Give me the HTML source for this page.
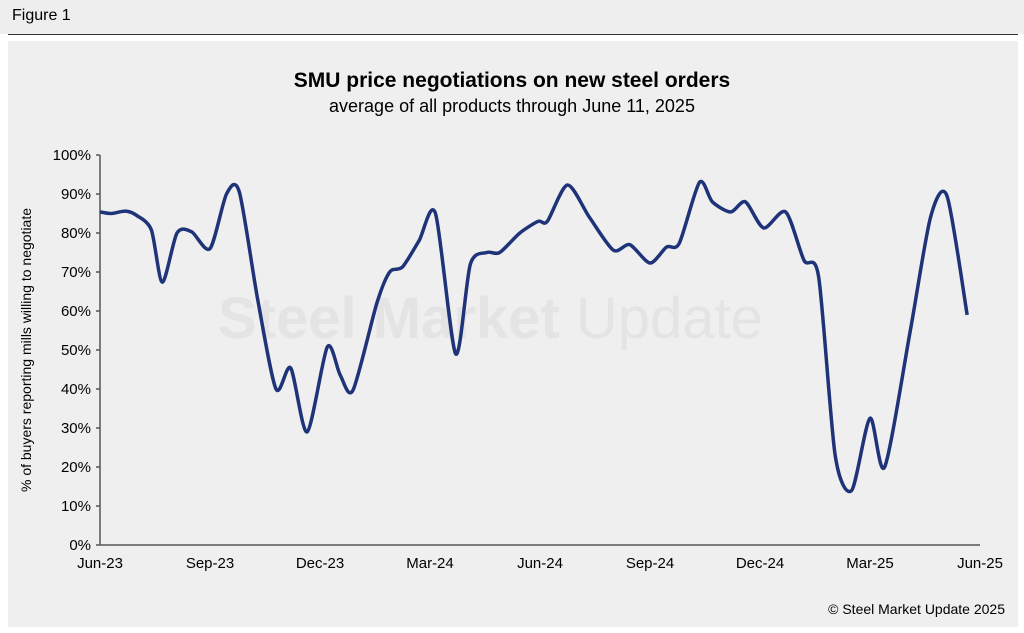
<!DOCTYPE html>
<html><head><meta charset="utf-8">
<style>
html,body{margin:0;padding:0;background:#fff;}
body{width:1024px;height:633px;position:relative;overflow:hidden;font-family:"Liberation Sans",Arial,sans-serif;}
</style></head>
<body>
<div style="position:absolute;left:0;top:0;width:1024px;height:34px;background:#eeeeee;"></div>
<div style="position:absolute;left:12px;top:7px;font-size:16px;color:#000;">Figure 1</div>
<div style="position:absolute;left:8px;top:34px;width:1010px;height:1px;background:#333;"></div>
<div style="position:absolute;left:8px;top:41px;width:1010px;height:586px;background:#efefef;"></div>
<svg id="chart" width="1024" height="633" style="position:absolute;left:0;top:0">
<text x="512" y="87" text-anchor="middle" font-size="21" font-weight="bold" fill="#000">SMU price negotiations on new steel orders</text>
<text x="512" y="112" text-anchor="middle" font-size="18" fill="#000">average of all products through June 11, 2025</text>
<text x="218" y="338" font-size="58" font-weight="bold" fill="#e4e4e4">Steel Market <tspan font-weight="normal">Update</tspan></text>
<text transform="translate(31,350) rotate(-90)" text-anchor="middle" font-size="14" fill="#000">% of buyers reporting mills willing to negotiate</text>
<text x="1005" y="614" text-anchor="end" font-size="14" fill="#000">© Steel Market Update 2025</text>
<g id="axes"></g>
<g id="series"></g>
</svg>
<script>
const monthIdx=[0,0.3,0.7,1.0,1.4,1.7,2.1,2.5,3.0,3.45,3.8,4.3,4.8,5.2,5.65,6.2,6.55,6.9,7.55,7.9,8.25,8.7,9.15,9.7,10.1,10.55,10.9,11.45,11.95,12.2,12.75,13.35,14.0,14.45,15.0,15.45,15.8,16.35,16.7,17.2,17.6,18.1,18.7,19.2,19.6,20.05,20.5,21.0,21.4,22.1,22.65,23.1,23.65];
const values=[85.4,85,85.6,84.5,80.8,67.4,80,80.3,76,90,90.5,63,40,45.4,29,50.8,43.6,39.7,62,70,71.3,78,85,49,72,75,75,80,83,83,92.3,84,75.6,77,72.3,76.4,77.4,93,88,85.4,88,81.3,85.4,73,68.7,23,14,32.5,20,55,84,89.5,59];
const xTickLabels=["Jun-23","Sep-23","Dec-23","Mar-24","Jun-24","Sep-24","Dec-24","Mar-25","Jun-25"];
const xTickMonths=[0,3,6,9,12,15,18,21,24];
const yTicks=[0,10,20,30,40,50,60,70,80,90,100];
const X0=100,X1=980,Y0=545,Y1=155;
const xs=m=>X0+(X1-X0)*m/24;
const ys=v=>Y0-(Y0-Y1)*v/100;
const NS="http://www.w3.org/2000/svg";
const axes=document.getElementById('axes');
function mk(t,a,p){const e=document.createElementNS(NS,t);for(const k in a)e.setAttribute(k,a[k]);p.appendChild(e);return e;}
let e=mk('line',{x1:X0,y1:Y1,x2:X0,y2:Y0,stroke:'#555','stroke-width':1.5},axes);


e=mk('line',{x1:X0,y1:Y0,x2:X1,y2:Y0,stroke:'#555','stroke-width':1.5},axes);


yTicks.forEach(v=>{
 const t=mk('line',{x1:X0-4,y1:ys(v),x2:X0,y2:ys(v),stroke:'#555','stroke-width':1.5},axes);
 
 
 const l=mk('text',{x:X0-9,y:ys(v)+5,'text-anchor':'end','font-size':15,fill:'#000'},axes);
 l.textContent=v+'%';
 
 
});
xTickMonths.forEach((m,i)=>{
 const l=mk('text',{x:xs(m),y:Y0+23,'text-anchor':'middle','font-size':15,fill:'#000'},axes);
 l.textContent=xTickLabels[i];
 
 
});
const P=monthIdx.map((m,i)=>[xs(m),ys(values[i])]);
let d='M'+P[0][0]+','+P[0][1];
const k=7.5;
for(let i=0;i<P.length-1;i++){
 const p0=P[i-1]||P[i],p1=P[i],p2=P[i+1],p3=P[i+2]||P[i+1];
 const c1=[p1[0]+(p2[0]-p0[0])/k,p1[1]+(p2[1]-p0[1])/k];
 const c2=[p2[0]-(p3[0]-p1[0])/k,p2[1]-(p3[1]-p1[1])/k];
 d+=`C${c1[0]},${c1[1]} ${c2[0]},${c2[1]} ${p2[0]},${p2[1]}`;
}
const line=mk('path',{d:d,fill:'none',stroke:'#1f3379','stroke-width':3.5,'stroke-linejoin':'round'},document.getElementById('series'));


</script>
</body></html>
